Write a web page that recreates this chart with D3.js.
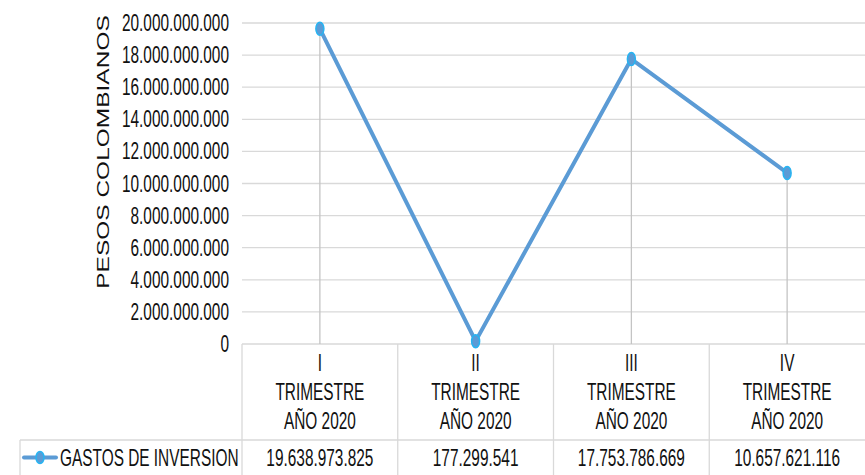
<!DOCTYPE html>
<html>
<head>
<meta charset="utf-8">
<script src="https://cdn.jsdelivr.net/npm/d3@7/dist/d3.min.js"></script>
<style>
  body { margin: 0; background: #fff; }
  text { font-family: "Liberation Sans", Arial, sans-serif; fill: #111; }
</style>
</head>
<body>
<svg id="chart" width="865" height="475"></svg>
<script>
const quarters = ['I', 'II', 'III', 'IV']
const quarterLines = ['TRIMESTRE', 'AÑO 2020']
const seriesName = 'GASTOS DE INVERSION'
const gastos = [19638973825, 177299541, 17753786669, 10657621116]
const yTicks = [0, 2e9, 4e9, 6e9, 8e9, 10e9, 12e9, 14e9, 16e9, 18e9, 20e9]
const yTitle = 'PESOS COLOMBIANOS'

const W = 865, H = 475
const plotL = 242, plotR = 865, plotT = 23, plotB = 344
const sx = 0.67   // the picture is squeezed sideways

const svg = d3.select('#chart')

const locale = d3.formatLocale({ decimal: ',', thousands: '.', grouping: [3], currency: ['$', ''] })
const fmt = locale.format(',d')

const x = d3.scaleBand().domain(quarters).range([plotL, plotR])
const y = d3.scaleLinear().domain([0, 20e9]).range([plotB, plotT])

// horizontal gridlines
svg.append('g').selectAll('line').data(yTicks.filter(d => d > 0)).join('line')
  .attr('x1', plotL).attr('x2', plotR)
  .attr('y1', d => y(d)).attr('y2', d => y(d))
  .attr('stroke', '#d9d9d9').attr('stroke-width', 1.3)

// tick labels
svg.append('g').selectAll('text').data(yTicks).join('text')
  .attr('transform', d => `translate(229,${y(d) + 8}) scale(${sx},1)`)
  .attr('text-anchor', 'end')
  .style('font-size', '23px')
  .text(d => fmt(d))

// axis title
svg.append('text')
  .attr('transform', `translate(109,152) scale(${sx},1) rotate(-90)`)
  .attr('text-anchor', 'middle')
  .style('font-size', '24.5px')
  .text(yTitle)

// data table grid
const grid = svg.append('g').attr('stroke', '#d9d9d9').attr('stroke-width', 1.3)
grid.append('line').attr('x1', plotL).attr('x2', plotR).attr('y1', plotB).attr('y2', plotB)
grid.append('line').attr('x1', 20).attr('x2', plotR).attr('y1', 440).attr('y2', 440)
grid.append('line').attr('x1', 20).attr('x2', 20).attr('y1', 440).attr('y2', H)
grid.selectAll('line.sep').data(quarters).join('line').attr('class', 'sep')
  .attr('x1', d => x(d)).attr('x2', d => x(d))
  .attr('y1', plotB).attr('y2', H)

// drop lines
svg.append('g').selectAll('line').data(quarters).join('line')
  .attr('x1', d => x(d) + x.bandwidth() / 2).attr('x2', d => x(d) + x.bandwidth() / 2)
  .attr('y1', (d, i) => y(gastos[i])).attr('y2', plotB)
  .attr('stroke', '#c4c4c4').attr('stroke-width', 1.3)

// category labels
const cat = svg.append('g').selectAll('g').data(quarters).join('g')
  .attr('transform', d => `translate(${x(d) + x.bandwidth() / 2},0)`)
cat.selectAll('text').data(d => [d].concat(quarterLines)).join('text')
  .attr('transform', (d, i) => `translate(0,${371 + i * 29}) scale(${sx},1)`)
  .attr('text-anchor', 'middle')
  .style('font-size', '23px')
  .text(d => d)

// values row
svg.append('g').selectAll('text').data(quarters).join('text')
  .attr('transform', (d, i) => `translate(${x(d) + x.bandwidth() / 2},466) scale(${sx},1)`)
  .attr('text-anchor', 'middle')
  .style('font-size', '23px')
  .text((d, i) => fmt(gastos[i]))

// legend key
const lineColor = '#5b9bd5', markerEdge = '#27b4f2'
svg.append('line').attr('x1', 24).attr('x2', 56).attr('y1', 457.5).attr('y2', 457.5)
  .attr('stroke', lineColor).attr('stroke-width', 4).attr('stroke-linecap', 'round')
svg.append('ellipse').attr('cx', 40).attr('cy', 457.5).attr('rx', 4).attr('ry', 6)
  .attr('fill', lineColor).attr('stroke', markerEdge).attr('stroke-width', 1.5)
svg.append('text')
  .attr('transform', `translate(60,466) scale(${sx},1)`)
  .style('font-size', '23px')
  .text(seriesName)

// series line
const pts = quarters.map((q, i) => [x(q) + x.bandwidth() / 2, y(gastos[i])])
svg.append('path')
  .attr('d', d3.line()(pts))
  .attr('fill', 'none').attr('stroke', lineColor).attr('stroke-width', 4)
  .attr('stroke-linejoin', 'round')
svg.append('g').selectAll('ellipse').data(pts).join('ellipse')
  .attr('cx', d => d[0]).attr('cy', d => d[1])
  .attr('rx', 4).attr('ry', 6.5)
  .attr('fill', lineColor).attr('stroke', markerEdge).attr('stroke-width', 1.5)
</script>
</body>
</html>
